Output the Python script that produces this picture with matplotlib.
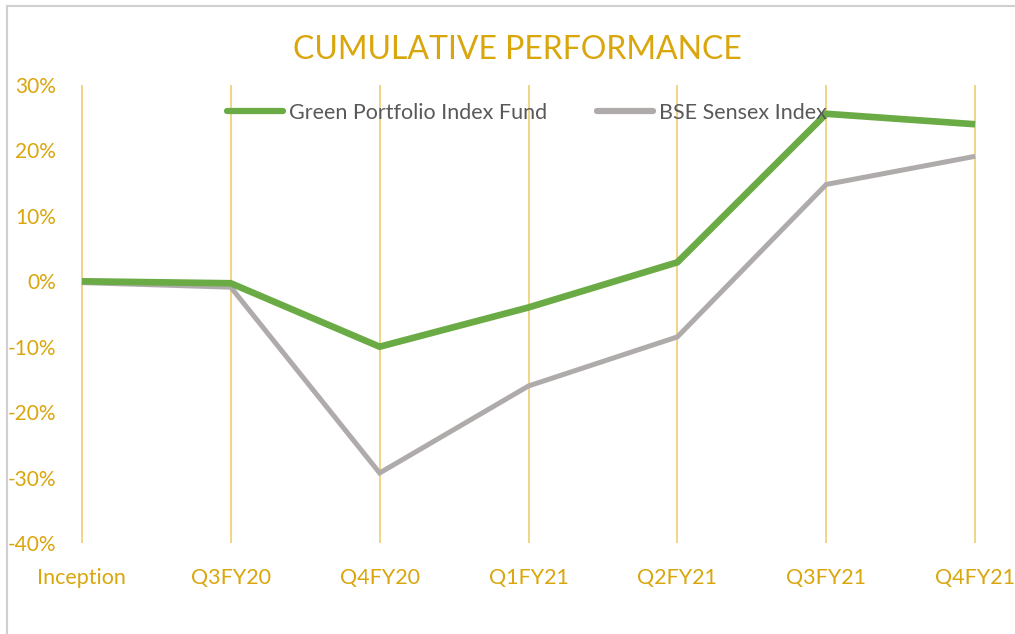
import matplotlib.pyplot as plt
from matplotlib.lines import Line2D

# dane
quarters = ['Inception', 'Q3FY20', 'Q4FY20', 'Q1FY21', 'Q2FY21', 'Q3FY21', 'Q4FY21']
green_fund = [0.0, -0.3, -10.0, -4.0, 2.9, 25.6, 24.0]
sensex = [-0.2, -0.9, -29.3, -16.0, -8.5, 14.8, 19.1]
y_ticks = [-40, -30, -20, -10, 0, 10, 20, 30]

GOLD = '#D9A60C'
GRID = '#EFD27A'
GREEN = '#6AAB45'
GREY = '#AFABAB'

plt.rcParams['font.family'] = ['Lato', 'DejaVu Sans']

fig = plt.figure(figsize=(10.15, 6.34), dpi=100)
W, H = 1015, 634
ax = fig.add_axes([67 / W, 1 - 543 / H, (990 - 67) / W, (543 - 85) / H])

x = list(range(len(quarters)))
ax.plot(x, green_fund, color=GREEN, lw=4.8, solid_joinstyle='miter', solid_capstyle='butt', zorder=3)
ax.plot(x, sensex, color=GREY, lw=3.6, solid_joinstyle='miter', solid_capstyle='butt', zorder=2)

ax.set_xlim(-0.1, 6.1)
ax.set_ylim(-40, 30)
ax.set_yticks(y_ticks)
ax.set_yticklabels([f'{v}%' for v in y_ticks])
ax.set_xticks(x)
ax.set_xticklabels(quarters)
ax.tick_params(colors=GOLD, labelsize=15, length=0)
ax.tick_params(axis='x', labelsize=15.5, pad=18)
ax.tick_params(axis='y', pad=8)
for s in ax.spines.values():
    s.set_visible(False)
ax.grid(axis='x', color=GRID, lw=1.3)
ax.set_axisbelow(True)

fig.text(517 / W, 1 - 50 / H, 'CUMULATIVE PERFORMANCE', color=GOLD, fontsize=23,
         ha='center', va='center')

handles = [Line2D([], [], color=GREEN, lw=4.5, solid_capstyle='round'),
           Line2D([], [], color=GREY, lw=4.5, solid_capstyle='round')]
ax.legend(handles, ['Green Portfolio Index Fund', 'BSE Sensex Index'], ncol=2,
          loc='center', bbox_to_anchor=(527 / W, 1 - 113 / H), bbox_transform=fig.transFigure,
          frameon=False, fontsize=15.5, labelcolor='#595959', handlelength=2.6,
          handletextpad=0.3, columnspacing=2.3)

# ramka wokol wykresu
fig.add_artist(Line2D([6.5 / W, 6.5 / W], [0, 1 - 6 / H], color='#D0D0D0', lw=1.5))
fig.add_artist(Line2D([6.5 / W, 1], [1 - 6 / H, 1 - 6 / H], color='#D0D0D0', lw=1.5))

fig.savefig('out.png', dpi=100)
